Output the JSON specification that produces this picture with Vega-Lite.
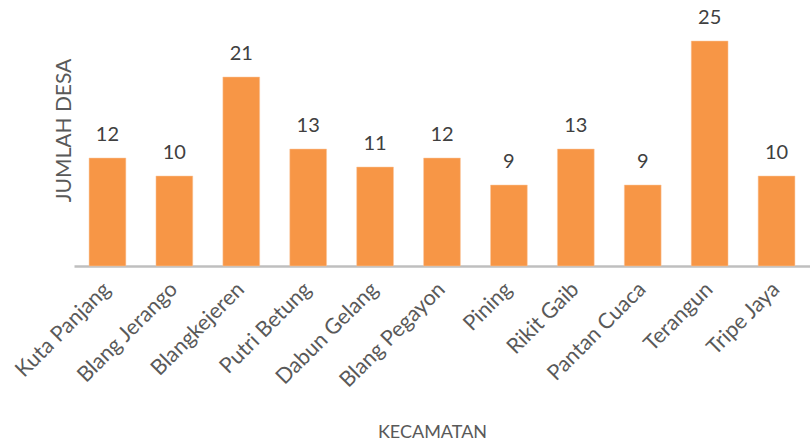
{
  "$schema": "https://vega.github.io/schema/vega-lite/v6.json",
  "autosize": "none",
  "width": 736,
  "height": 266,
  "padding": {"left": 74, "top": 0, "right": 0, "bottom": 178},
  "background": "white",
  "config": {"view": {"stroke": null}, "font": "Lato"},
  "data": {"values": [
    {"kecamatan": "Kuta Panjang", "desa": 12},
    {"kecamatan": "Blang Jerango", "desa": 10},
    {"kecamatan": "Blangkejeren", "desa": 21},
    {"kecamatan": "Putri Betung", "desa": 13},
    {"kecamatan": "Dabun Gelang", "desa": 11},
    {"kecamatan": "Blang Pegayon", "desa": 12},
    {"kecamatan": "Pining", "desa": 9},
    {"kecamatan": "Rikit Gaib", "desa": 13},
    {"kecamatan": "Pantan Cuaca", "desa": 9},
    {"kecamatan": "Terangun", "desa": 25},
    {"kecamatan": "Tripe Jaya", "desa": 10}
  ]},
  "encoding": {
    "x": {"field": "kecamatan", "type": "nominal", "sort": null,
      "scale": {"paddingInner": 0.45, "paddingOuter": 0.225},
      "axis": {"title": "KECAMATAN", "labelAngle": -45, "labelAlign": "right", "labelBaseline": "middle",
        "labelFontSize": 21.5, "labelColor": "#595959", "labelPadding": 20, "ticks": false,
        "domainColor": "#BFBFBF", "domainWidth": 2.5,
        "titleFontSize": 18, "titleFontWeight": "normal", "titleColor": "#595959", "titleY": 157, "titleBaseline": "top", "titleX": 358}},
    "y": {"field": "desa", "type": "quantitative",
      "scale": {"domain": [0, 29.56], "nice": false},
      "axis": {"title": "JUMLAH DESA", "labels": false, "ticks": false, "domain": false, "grid": false,
        "titleFontSize": 21, "titleFontWeight": "normal", "titleColor": "#595959", "titlePadding": 0, "titleY": 130}}
  },
  "layer": [
    {"mark": {"type": "bar", "color": "#F79646", "stroke": "#FBC9A0", "strokeWidth": 0.5}},
    {"mark": {"type": "text", "baseline": "alphabetic", "dy": -17, "fontSize": 20, "color": "#404040"},
     "encoding": {"text": {"field": "desa", "type": "quantitative"}}}
  ]
}
